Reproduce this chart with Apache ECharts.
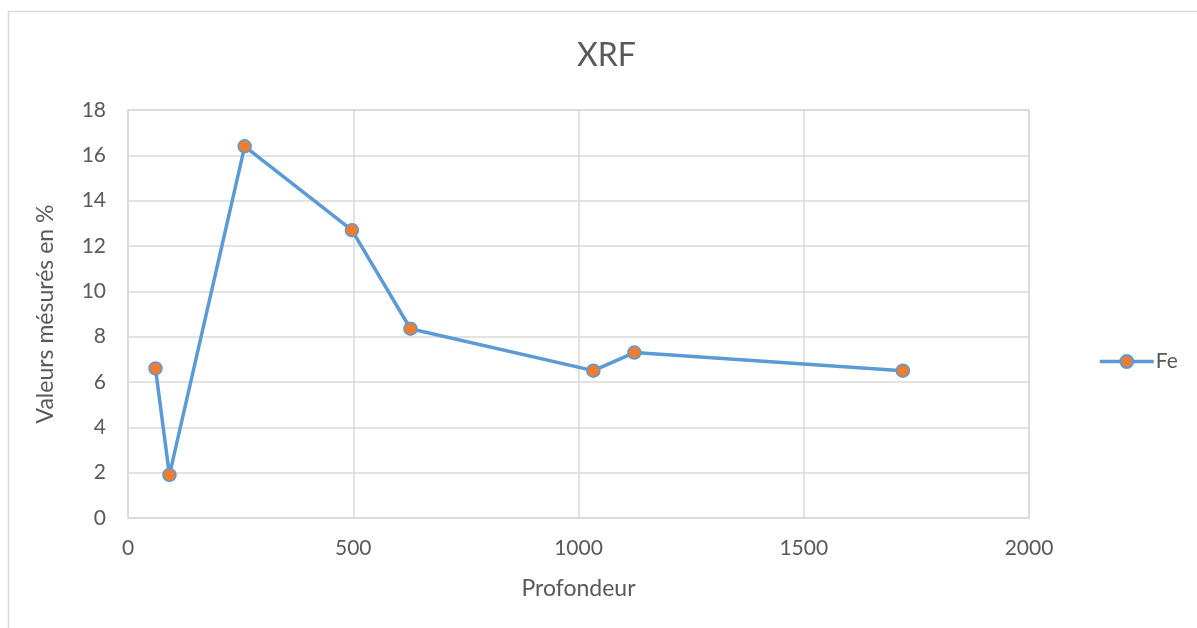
<!DOCTYPE html>
<html>
<head>
<meta charset="utf-8">
<script src="https://cdn.jsdelivr.net/npm/echarts@6/dist/echarts.min.js"></script>
<style>
  html, body { margin: 0; padding: 0; background: #fff; }
  #chart { width: 1197px; height: 628px; }
</style>
</head>
<body>
<div id="chart"></div>
<script>
// Depth (Profondeur) and measured Fe content (%)
const depths = [61, 92, 259, 497, 627, 1033, 1124, 1720];
const feValues = [6.6, 1.9, 16.4, 12.7, 8.35, 6.5, 7.3, 6.5];
const seriesName = 'Fe';
const titleText = 'XRF';
const xAxisName = 'Profondeur';
const yAxisName = 'Valeurs mésurés en %';

const FONT = 'Lato, "Open Sans", sans-serif';
const TEXT = '#595959';
const GRID_LINE = '#d9d9d9';
const LINE_BLUE = '#5b9bd5';
const DOT_ORANGE = '#ed7d31';

const chart = echarts.init(document.getElementById('chart'));
chart.setOption({
  animation: false,
  backgroundColor: '#ffffff',
  graphic: [{
    type: 'rect',
    shape: { x: 8.5, y: 11.5, width: 1400, height: 800 },
    style: { fill: 'none', stroke: GRID_LINE, lineWidth: 1.5 },
    silent: true
  }],
  title: {
    text: titleText,
    left: 577,
    top: 40,
    padding: 0,
    textStyle: { fontFamily: FONT, fontSize: 32, fontWeight: 'normal', color: TEXT }
  },
  legend: {
    left: 1093,
    top: 346,
    itemWidth: 54,
    itemHeight: 16,
    itemGap: 6,
    lineStyle: { width: 3.5 },
    textStyle: { fontFamily: FONT, fontSize: 21, color: TEXT, padding: [0, 0, 0, -3] },
    data: [{ name: seriesName }]
  },
  grid: {
    left: 128, top: 110, right: 168, bottom: 110,
    show: true, borderColor: GRID_LINE, borderWidth: 1.5
  },
  xAxis: {
    type: 'value',
    min: 0, max: 2000, interval: 500,
    name: xAxisName,
    nameLocation: 'middle',
    nameGap: 59,
    nameTextStyle: { fontFamily: FONT, fontSize: 23, color: TEXT },
    axisLine: { show: false },
    axisTick: { show: false },
    axisLabel: {
      fontFamily: FONT, fontSize: 21, color: TEXT, margin: 20,
      formatter: v => String(v)
    },
    splitLine: { show: true, lineStyle: { color: GRID_LINE, width: 1.5 } }
  },
  yAxis: {
    type: 'value',
    min: 0, max: 18, interval: 2,
    name: yAxisName,
    nameLocation: 'middle',
    nameRotate: 90,
    nameGap: 71,
    nameTextStyle: { fontFamily: FONT, fontSize: 23, color: TEXT },
    axisLine: { show: false },
    axisTick: { show: false },
    axisLabel: { fontFamily: FONT, fontSize: 21, color: TEXT, margin: 22 },
    splitLine: { show: true, lineStyle: { color: GRID_LINE, width: 1.5 } }
  },
  series: [{
    name: seriesName,
    type: 'line',
    data: depths.map((d, i) => [d, feValues[i]]),
    symbol: 'circle',
    symbolSize: 13,
    showAllSymbol: true,
    lineStyle: { color: LINE_BLUE, width: 3.5 },
    itemStyle: { color: DOT_ORANGE, borderColor: LINE_BLUE, borderWidth: 1.5 }
  }]
});
</script>
</body>
</html>
